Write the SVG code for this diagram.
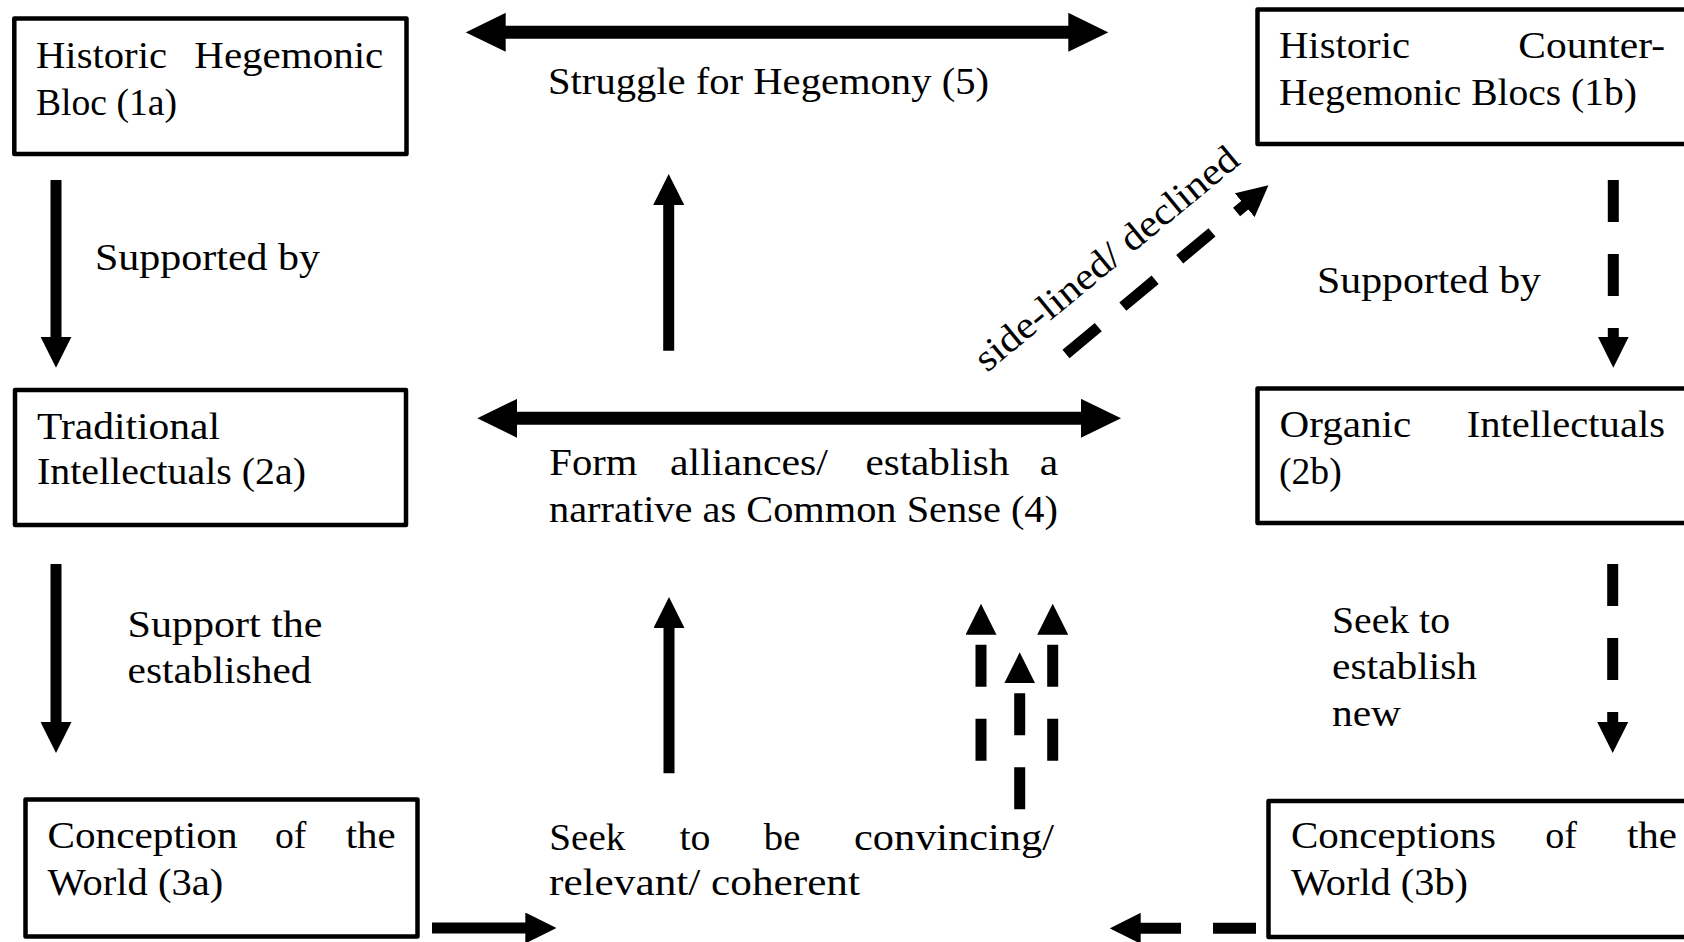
<svg xmlns="http://www.w3.org/2000/svg" width="1684" height="942" viewBox="0 0 1684 942">
<style>
.box{fill:#fff;stroke:#000;stroke-width:4.5;stroke-linejoin:round}
.t{font-family:"Liberation Serif","Times New Roman",serif;font-size:38px;fill:#000}
.sh{stroke:#000;stroke-width:13;fill:none}
.sv{stroke:#000;stroke-width:11;fill:none}
.dash{stroke-dasharray:42 32}
</style>
<defs>
<marker id="big" markerUnits="userSpaceOnUse" markerWidth="40" markerHeight="39" refX="2" refY="19.5" orient="auto-start-reverse" viewBox="0 0 40 39"><path d="M0,0 L40,19.5 L0,39 z" fill="#000"/></marker>
<marker id="sm" markerUnits="userSpaceOnUse" markerWidth="31" markerHeight="31" refX="2" refY="15.5" orient="auto" viewBox="0 0 31 31"><path d="M0,0 L31,15.5 L0,31 z" fill="#000"/></marker>
</defs>
<rect width="1684" height="942" fill="#fff"/>

<g id="nodes">
  <g id="n1a">
    <rect class="box" x="14.3" y="18.5" width="392.2" height="135.5"/>
    <text class="t" x="36" y="68" textLength="131" lengthAdjust="spacingAndGlyphs">Historic</text>
    <text class="t" x="194.3" y="68" textLength="189" lengthAdjust="spacingAndGlyphs">Hegemonic</text>
    <text class="t" x="36" y="115" textLength="141" lengthAdjust="spacingAndGlyphs">Bloc (1a)</text>
  </g>
  <g id="n2a">
    <rect class="box" x="15" y="390" width="391" height="135"/>
    <text class="t" x="37" y="439" textLength="183" lengthAdjust="spacingAndGlyphs">Traditional</text>
    <text class="t" x="37" y="484" textLength="269" lengthAdjust="spacingAndGlyphs">Intellectuals (2a)</text>
  </g>
  <g id="n3a">
    <rect class="box" x="25.5" y="799.5" width="392" height="137"/>
    <text class="t" x="47.5" y="847.5" textLength="190" lengthAdjust="spacingAndGlyphs">Conception</text>
    <text class="t" x="275" y="847.5" textLength="31.4" lengthAdjust="spacingAndGlyphs">of</text>
    <text class="t" x="345.7" y="847.5" textLength="50" lengthAdjust="spacingAndGlyphs">the</text>
    <text class="t" x="47.5" y="894.5" textLength="175.7" lengthAdjust="spacingAndGlyphs">World (3a)</text>
  </g>
  <g id="n1b">
    <rect class="box" x="1257.5" y="9.5" width="450" height="134.5"/>
    <text class="t" x="1279" y="58" textLength="131" lengthAdjust="spacingAndGlyphs">Historic</text>
    <text class="t" x="1518.3" y="58" textLength="146.7" lengthAdjust="spacingAndGlyphs">Counter-</text>
    <text class="t" x="1279" y="105" textLength="358" lengthAdjust="spacingAndGlyphs">Hegemonic Blocs (1b)</text>
  </g>
  <g id="n2b">
    <rect class="box" x="1257.5" y="388.5" width="450" height="134.5"/>
    <text class="t" x="1279.5" y="437" textLength="131.7" lengthAdjust="spacingAndGlyphs">Organic</text>
    <text class="t" x="1466.7" y="437" textLength="198.3" lengthAdjust="spacingAndGlyphs">Intellectuals</text>
    <text class="t" x="1279" y="484" textLength="62.7" lengthAdjust="spacingAndGlyphs">(2b)</text>
  </g>
  <g id="n3b">
    <rect class="box" x="1268.5" y="801" width="450" height="136"/>
    <text class="t" x="1291" y="847.5" textLength="205" lengthAdjust="spacingAndGlyphs">Conceptions</text>
    <text class="t" x="1545.3" y="847.5" textLength="31.7" lengthAdjust="spacingAndGlyphs">of</text>
    <text class="t" x="1627" y="847.5" textLength="50" lengthAdjust="spacingAndGlyphs">the</text>
    <text class="t" x="1291" y="894.5" textLength="177" lengthAdjust="spacingAndGlyphs">World (3b)</text>
  </g>
  <g id="n5">
    <text class="t" x="548" y="94" textLength="441" lengthAdjust="spacingAndGlyphs">Struggle for Hegemony (5)</text>
  </g>
  <g id="n4">
    <text class="t" x="549.3" y="475" textLength="88" lengthAdjust="spacingAndGlyphs">Form</text>
    <text class="t" x="670" y="475" textLength="158" lengthAdjust="spacingAndGlyphs">alliances/</text>
    <text class="t" x="865.4" y="475" textLength="144" lengthAdjust="spacingAndGlyphs">establish</text>
    <text class="t" x="1039.8" y="475" textLength="18.4" lengthAdjust="spacingAndGlyphs">a</text>
    <text class="t" x="549" y="521.7" textLength="509" lengthAdjust="spacingAndGlyphs">narrative as Common Sense (4)</text>
  </g>
  <g id="nseek">
    <text class="t" x="549.3" y="850" textLength="76" lengthAdjust="spacingAndGlyphs">Seek</text>
    <text class="t" x="679.4" y="850" textLength="31" lengthAdjust="spacingAndGlyphs">to</text>
    <text class="t" x="763.8" y="850" textLength="36.5" lengthAdjust="spacingAndGlyphs">be</text>
    <text class="t" x="854" y="850" textLength="200" lengthAdjust="spacingAndGlyphs">convincing/</text>
    <text class="t" x="549" y="894.5" textLength="311" lengthAdjust="spacingAndGlyphs">relevant/ coherent</text>
  </g>
</g>

<g id="connectors">
  <line class="sh" x1="503.7" y1="32.3" x2="1070.3" y2="32.3" marker-start="url(#big)" marker-end="url(#big)"/>
  <line class="sh" x1="515.3" y1="418.3" x2="1083" y2="418.3" marker-start="url(#big)" marker-end="url(#big)"/>
  <line class="sv" x1="668.7" y1="350.7" x2="668.7" y2="203" marker-end="url(#sm)"/>
  <line class="sv" x1="669" y1="773.3" x2="669" y2="626" marker-end="url(#sm)"/>
  <line class="sv" x1="56" y1="180" x2="56" y2="338.7" marker-end="url(#sm)"/>
  <line class="sv" x1="56" y1="564" x2="56" y2="724" marker-end="url(#sm)"/>
  <line class="sv dash" x1="1613.3" y1="180" x2="1613.3" y2="338.7" marker-end="url(#sm)"/>
  <line class="sv dash" x1="1612.7" y1="564" x2="1612.7" y2="724" marker-end="url(#sm)"/>
  <line class="sv dash" x1="1066" y1="354" x2="1246.2" y2="203.9" stroke-width="10" marker-end="url(#sm)"/>
  <line class="sv dash" x1="981" y1="760.7" x2="981" y2="632.7" marker-end="url(#sm)"/>
  <line class="sv dash" x1="1019.7" y1="809.3" x2="1019.7" y2="681.3" marker-end="url(#sm)"/>
  <line class="sv dash" x1="1052.7" y1="760.7" x2="1052.7" y2="632.7" marker-end="url(#sm)"/>
  <line class="sv" x1="432" y1="928" x2="527.3" y2="928" stroke-width="11.7" marker-end="url(#sm)"/>
  <line class="sv" x1="1256" y1="928.3" x2="1138.7" y2="928.3" stroke-width="11.7" stroke-dasharray="43 32" marker-end="url(#sm)"/>
  <text class="t" x="95" y="270" textLength="225" lengthAdjust="spacingAndGlyphs">Supported by</text>
  <text class="t" x="127.5" y="636.5" textLength="195" lengthAdjust="spacingAndGlyphs">Support the</text>
  <text class="t" x="127.5" y="683" textLength="184" lengthAdjust="spacingAndGlyphs">established</text>
  <text class="t" x="1317" y="293" textLength="224" lengthAdjust="spacingAndGlyphs">Supported by</text>
  <text class="t" x="1332" y="633" textLength="118" lengthAdjust="spacingAndGlyphs">Seek to</text>
  <text class="t" x="1332" y="679" textLength="145" lengthAdjust="spacingAndGlyphs">establish</text>
  <text class="t" x="1332" y="725.6" textLength="69" lengthAdjust="spacingAndGlyphs">new</text>
  <text class="t" transform="translate(987,373) rotate(-39.5)" x="0" y="0" textLength="330" lengthAdjust="spacingAndGlyphs">side-lined/ declined</text>
</g>
</svg>
